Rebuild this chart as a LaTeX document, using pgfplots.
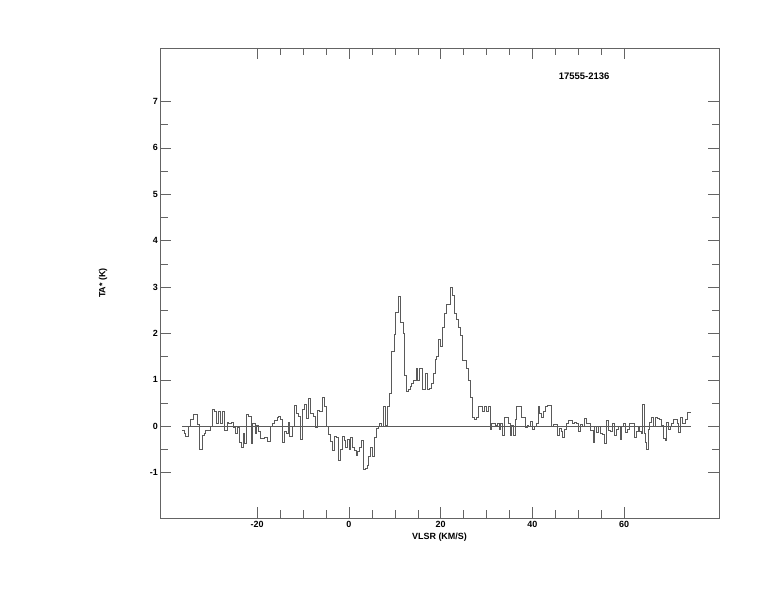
\documentclass[border=0pt]{standalone}
\usepackage{pgfplots}
\pgfplotsset{compat=1.18}
\usepackage{fontspec}
\setmainfont{Liberation Sans}
\definecolor{frame}{RGB}{100,100,100}
\definecolor{spec}{RGB}{90,90,90}
\begin{document}
\begin{tikzpicture}
\path[use as bounding box] (0,0) rectangle (774bp,612bp);
\begin{axis}[
  at={(160bp,94bp)}, anchor=south west,
  scale only axis, width=559bp, height=470bp,
  xmin=-41.2, xmax=80.7, ymin=-1.98, ymax=8.15,
  xtick={-20,0,20,40,60}, ytick={-1,0,...,7},
  minor x tick num=3, minor y tick num=1,
  tick align=inside, major tick length=11bp, minor tick length=7.5bp,
  axis line style={frame}, every tick/.style={frame},
  /pgf/number format/assume math mode=true,
  tick label style={font=\fontsize{9}{10}\selectfont\bfseries, black},
  xticklabel style={inner sep=1pt, yshift=-2pt},
  yticklabel style={inner sep=1pt, xshift=-1pt},
  xlabel={VLSR (KM/S)}, ylabel={TA* (K)},
  label style={font=\fontsize{9}{10}\selectfont\bfseries},
  xlabel style={at={(axis description cs:0.5,0)}, anchor=center, yshift=-19bp},
  ylabel style={at={(axis description cs:0,0.5)}, anchor=center, yshift=57bp},
  clip=false,
]
\addplot[spec, line width=0.6pt, const plot] coordinates {
(-36.4,-0.1) (-36.0,-0.15) (-35.6,-0.22) (-35.05,0.0) (-34.55,0.14) (-33.95,0.25) (-33.45,0.25) (-33.0,0.05) (-32.7,-0.5) (-32.0,-0.19)
(-31.6,-0.15) (-31.25,-0.08) (-30.7,-0.1) (-30.3,0.0) (-29.8,0.36) (-29.3,0.33) (-28.9,0.06) (-28.4,0.31) (-28.0,0.06) (-27.6,0.33)
(-27.1,-0.09) (-26.6,0.09) (-26.2,0.06) (-25.7,0.09) (-25.2,-0.02) (-24.7,-0.16) (-24.3,-0.02) (-24.0,-0.34) (-23.5,-0.45) (-23.1,-0.16)
(-22.8,-0.37) (-22.3,0.25) (-21.9,0.22) (-21.4,-0.36) (-21.0,0.06) (-20.5,-0.16) (-20.1,0.02) (-19.7,-0.12) (-19.3,-0.27) (-18.5,-0.23)
(-17.9,-0.32) (-17.2,-0.01) (-16.7,0.06) (-16.2,0.13) (-15.7,0.19) (-15.3,0.22) (-14.9,0.15) (-14.5,-0.34) (-14.1,-0.12) (-13.7,-0.16)
(-13.3,0.09) (-12.9,-0.22) (-12.4,0.0) (-12.0,0.45) (-11.5,0.27) (-11.1,0.22) (-10.5,-0.29) (-10.2,0.36) (-9.7,0.47) (-9.2,0.17)
(-8.9,0.6) (-8.4,0.27) (-7.8,0.22) (-7.4,-0.03) (-7.0,0.35) (-6.5,0.31) (-5.8,0.62) (-5.3,0.43) (-4.9,0.0) (-4.4,-0.18)
(-4.0,-0.32) (-3.6,-0.52) (-3.1,-0.22) (-2.7,-0.25) (-2.3,-0.73) (-1.8,-0.5) (-1.45,-0.22) (-1.1,-0.3) (-0.7,-0.45) (-0.3,-0.28)
(0.0,-0.5) (0.4,-0.25) (0.8,-0.45) (1.1,-0.52) (1.5,-0.63) (1.9,-0.55) (2.3,-0.45) (2.8,-0.3) (3.2,-0.94) (3.6,-0.9)
(4.0,-0.84) (4.3,-0.65) (4.7,-0.45) (5.1,-0.66) (5.5,-0.23) (5.9,-0.05) (6.3,0.0) (6.7,0.07) (7.1,0.0) (7.5,0.42)
(7.9,0.02) (8.4,0.43) (8.9,0.7) (9.3,1.62) (9.8,1.98) (10.2,2.46) (10.7,2.8) (11.3,2.23) (11.8,2.0) (12.1,1.1)
(12.5,0.75) (12.9,0.8) (13.3,0.86) (13.7,0.93) (14.1,0.99) (14.6,1.24) (15.0,0.99) (15.4,1.24) (15.9,0.79) (16.3,0.79)
(16.6,1.14) (17.1,0.79) (17.5,0.81) (18.0,0.92) (18.4,1.14) (18.8,1.44) (19.1,1.51) (19.5,1.87) (20.0,1.72) (20.4,2.14)
(20.8,2.43) (21.2,2.63) (21.7,2.63) (22.2,2.99) (22.6,2.82) (23.0,2.44) (23.5,2.3) (23.9,2.14) (24.3,1.96) (24.7,1.42)
(25.2,1.42) (25.6,1.24) (26.0,0.99) (26.5,0.63) (26.9,0.19) (27.3,0.15) (27.8,0.2) (28.2,0.42) (28.7,0.42) (29.1,0.31)
(29.5,0.42) (29.9,0.31) (30.3,0.42) (30.75,-0.07) (31.1,0.07) (31.5,0.06) (31.9,0.02) (32.3,0.07) (32.7,-0.07) (33.1,0.07)
(33.5,-0.19) (33.9,0.19) (34.3,0.19) (34.7,0.07) (35.1,-0.19) (35.5,0.02) (35.9,-0.19) (36.2,0.14) (36.6,0.42) (37.1,0.42)
(37.6,0.2) (38.0,0.19) (38.4,-0.03) (38.8,0.02) (39.2,-0.01) (39.6,0.1) (40.0,-0.07) (40.4,-0.01) (40.8,0.07) (41.2,0.42)
(41.6,0.27) (42.0,0.19) (42.4,0.31) (42.8,0.43) (43.2,0.45) (43.7,0.45) (44.2,0.0) (44.6,0.04) (45.0,0.04) (45.4,-0.19)
(45.8,-0.05) (46.2,-0.12) (46.6,-0.23) (47.0,-0.07) (47.4,0.07) (47.8,0.13) (48.2,0.12) (48.7,0.06) (49.2,0.09) (49.6,0.07)
(50.0,-0.12) (50.4,0.04) (50.8,-0.01) (51.3,0.17) (51.8,0.06) (52.2,0.06) (52.7,-0.09) (53.2,-0.34) (53.6,0.0) (54.0,-0.14)
(54.4,0.0) (54.8,-0.16) (55.2,-0.17) (55.7,-0.37) (56.1,0.13) (56.5,-0.09) (57.0,-0.12) (57.4,0.07) (57.8,-0.19) (58.2,-0.07)
(58.7,-0.01) (59.1,-0.29) (59.5,-0.01) (59.8,0.07) (60.2,-0.14) (60.6,-0.07) (61.1,0.06) (61.5,0.06) (62.2,-0.23) (62.6,-0.12)
(63.0,-0.01) (63.4,-0.12) (63.7,-0.16) (64.0,0.47) (64.3,-0.16) (64.6,-0.34) (64.9,-0.5) (65.3,-0.07) (65.6,0.09) (66.0,0.19)
(66.4,-0.01) (66.8,0.19) (67.3,0.17) (67.7,0.14) (68.1,0.02) (68.5,-0.27) (68.9,-0.3) (69.2,0.09) (69.6,-0.07) (70.0,-0.01)
(70.4,0.07) (70.8,0.14) (71.1,0.14) (71.5,0.06) (71.9,-0.14) (72.2,0.2) (72.6,0.06) (73.1,0.06) (73.4,0.14) (73.8,0.29)
(74.6,0.29)
};
\addplot[spec, line width=0.5pt] coordinates {(-36.4,0) (74.6,0)};
\node[font=\fontsize{9.5}{11}\selectfont\bfseries] at (axis cs:51.3,7.54) {17555-2136};
\end{axis}
\end{tikzpicture}
\end{document}
